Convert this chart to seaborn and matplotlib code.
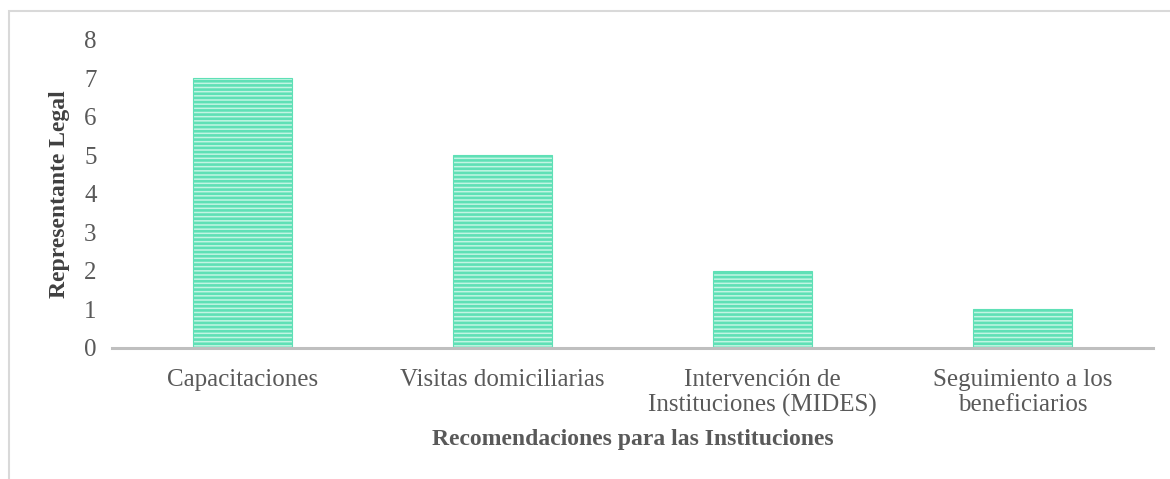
import matplotlib
matplotlib.use("Agg")
import matplotlib.pyplot as plt
import seaborn as sns
import pandas as pd
from matplotlib.patches import Rectangle

categorias = ["Capacitaciones", "Visitas domiciliarias",
              "Intervención de\nInstituciones (MIDES)",
              "Seguimiento a los\nbeneficiarios"]
valores = [7, 5, 2, 1]
y_ticks = [0, 1, 2, 3, 4, 5, 6, 7, 8]

sns.set_theme(style="white")
plt.rcParams["font.family"] = ["Liberation Serif", "DejaVu Serif"]
plt.rcParams["hatch.linewidth"] = 1.9
plt.rcParams["hatch.color"] = "#28d49b"

df = pd.DataFrame({"categoria": categorias, "valor": valores})

fig = plt.figure(figsize=(11.7, 4.79), dpi=100)
ax = fig.add_axes([0.0957, 0.2735, 0.8898, 0.643])

sns.barplot(data=df, x="categoria", y="valor", ax=ax, width=0.38,
            color="#c2f5e3", saturation=1)
for bar in ax.patches:
    bar.set_hatch("----")
    bar.set_edgecolor("#5fe0b6")
    bar.set_linewidth(0.8)

ax.set_xlim(-0.5, 3.5)
ax.set_ylim(0, 8)
ax.set_yticks(y_ticks)
ax.set_yticklabels([str(t) for t in y_ticks])
ax.tick_params(axis="both", length=0, colors="#595959", labelsize=18)
ax.tick_params(axis="y", pad=11)
ax.tick_params(axis="x", pad=15)
for lbl in ax.get_xticklabels() + ax.get_yticklabels():
    lbl.set_color("#595959")
    lbl.set_linespacing(1.2)

for side in ["top", "right", "left"]:
    ax.spines[side].set_visible(False)
ax.spines["bottom"].set_color("#bfbfbf")
ax.spines["bottom"].set_linewidth(2.2)

ax.set_xlabel("Recomendaciones para las Instituciones", fontsize=17,
              fontweight="bold", color="#595959", labelpad=8)
ax.set_ylabel("Representante Legal", fontsize=17, fontweight="bold",
              color="#404040", labelpad=10)

# outer chart frame
fig.patches.append(Rectangle((9 / 1170, -0.05), 1.2, (479 - 10.5) / 479 + 0.05,
                             transform=fig.transFigure, fill=False,
                             edgecolor="#d9d9d9", linewidth=1.5))

fig.savefig("out.png", dpi=100)
